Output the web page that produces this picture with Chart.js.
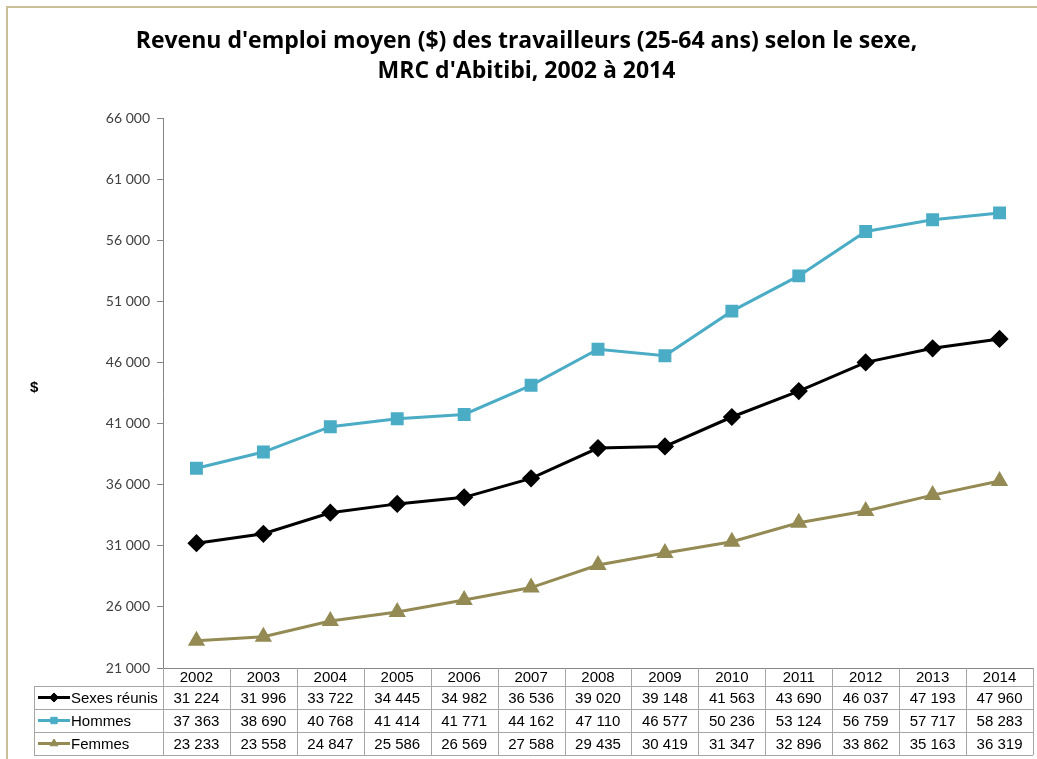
<!DOCTYPE html>
<html>
<head>
<meta charset="utf-8">
<script src="https://cdn.jsdelivr.net/npm/chart.js@4/dist/chart.umd.min.js"></script>
<style>
  html, body { margin: 0; padding: 0; background: #fff; overflow: hidden; }
  #wrap { width: 1037px; height: 759px; }
  canvas { display: block; }
</style>
</head>
<body>
<div id="wrap"><canvas id="chart" width="1037" height="759"></canvas></div>
<script>
const years = ["2002", "2003", "2004", "2005", "2006", "2007", "2008", "2009", "2010", "2011", "2012", "2013", "2014"];
const sexesReunis = [31224, 31996, 33722, 34445, 34982, 36536, 39020, 39148, 41563, 43690, 46037, 47193, 47960];
const hommes = [37363, 38690, 40768, 41414, 41771, 44162, 47110, 46577, 50236, 53124, 56759, 57717, 58283];
const femmes = [23233, 23558, 24847, 25586, 26569, 27588, 29435, 30419, 31347, 32896, 33862, 35163, 36319];
const yMin = 21000, yMax = 66000, yStep = 5000;

// "31 224" style, space as thousands separator
function fmt(v) {
  return String(Math.round(v)).replace(/\B(?=(\d{3})+(?!\d))/g, " ");
}

const frameColor = "#c9c09a";
const gridColor = "#a6a6a6";
const axisColor = "#868686";

// white background + tan frame, "$" label
const framePlugin = {
  id: "frame",
  beforeDraw(chart) {
    const ctx = chart.ctx;
    ctx.save();
    ctx.fillStyle = "#fff";
    ctx.fillRect(0, 0, chart.width, chart.height);
    ctx.strokeStyle = frameColor;
    ctx.lineWidth = 2;
    ctx.beginPath();
    ctx.moveTo(7, chart.height);
    ctx.lineTo(7, 7);
    ctx.lineTo(chart.width, 7);
    ctx.stroke();
    ctx.restore();
  },
  afterDraw(chart) {
    const ctx = chart.ctx;
    const ca = chart.chartArea;
    ctx.save();
    ctx.fillStyle = "#000";
    ctx.font = "bold 15px 'Liberation Sans', Arial, sans-serif";
    ctx.textAlign = "left";
    ctx.textBaseline = "middle";
    ctx.fillText("$", 30, (ca.top + ca.bottom) / 2 - 6);
    ctx.restore();
  }
};

// data table under the plot, columns follow the x scale
const tablePlugin = {
  id: "dataTable",
  afterDraw(chart) {
    const ctx = chart.ctx;
    const ca = chart.chartArea;
    const xs = chart.scales.x;
    const n = years.length;
    const colW = (ca.right - ca.left) / n;
    const tableLeft = 34;
    const headH = 18, rowH = 23;
    const top = ca.bottom;
    const rowsTop = top + headH;
    const bottom = rowsTop + rowH * chart.data.datasets.length;
    const px = v => Math.round(v) + 0.5;

    ctx.save();
    // x axis line
    ctx.strokeStyle = axisColor;
    ctx.lineWidth = 1;
    ctx.beginPath();
    ctx.moveTo(ca.left, px(top));
    ctx.lineTo(ca.right, px(top));
    ctx.stroke();

    ctx.strokeStyle = gridColor;
    ctx.beginPath();
    // vertical column lines
    for (let i = 0; i <= n; i++) {
      const x = px(ca.left + i * colW);
      ctx.moveTo(x, top);
      ctx.lineTo(x, bottom);
    }
    ctx.moveTo(px(tableLeft), rowsTop);
    ctx.lineTo(px(tableLeft), bottom);
    // horizontal row lines
    for (let r = 0; r <= chart.data.datasets.length; r++) {
      const y = px(rowsTop + r * rowH);
      ctx.moveTo(tableLeft, y);
      ctx.lineTo(ca.right, y);
    }
    ctx.stroke();

    ctx.fillStyle = "#000";
    ctx.font = "15px 'Liberation Sans', Arial, sans-serif";
    ctx.textBaseline = "middle";
    ctx.textAlign = "center";
    years.forEach((y, i) => {
      ctx.fillText(y, xs.getPixelForValue(i), top + headH / 2 + 1);
    });

    chart.data.datasets.forEach((ds, r) => {
      const cy = rowsTop + r * rowH + rowH / 2 + 1;
      ctx.fillStyle = "#000";
      ctx.textAlign = "center";
      ds.data.forEach((v, i) => {
        ctx.fillText(fmt(v), xs.getPixelForValue(i), cy);
      });
      // legend key: line + marker
      ctx.strokeStyle = ds.borderColor;
      ctx.fillStyle = ds.borderColor;
      ctx.lineWidth = 3;
      ctx.beginPath();
      ctx.moveTo(38, cy - 1);
      ctx.lineTo(70, cy - 1);
      ctx.stroke();
      ctx.lineWidth = 1;
      Chart.helpers.drawPoint(ctx, {
        pointStyle: ds.pointStyle,
        radius: ds.pointRadius * 0.65,
        rotation: 0,
        borderWidth: 1
      }, 54, cy - 1);
      ctx.fillStyle = "#000";
      ctx.textAlign = "left";
      ctx.fillText(ds.label, 71, cy);
    });
    ctx.restore();
  }
};

function series(label, data, color, style, radius, width) {
  return {
    label: label,
    data: data,
    borderColor: color,
    backgroundColor: color,
    pointBackgroundColor: color,
    pointBorderColor: color,
    borderWidth: width,
    pointStyle: style,
    pointRadius: radius,
    pointHoverRadius: radius,
    tension: 0
  };
}

new Chart(document.getElementById("chart"), {
  type: "line",
  data: {
    labels: years,
    datasets: [
      series("Sexes réunis", sexesReunis, "#000000", "rectRot", 7, 3),
      series("Hommes", hommes, "#4bacc6", "rect", 7, 3),
      series("Femmes", femmes, "#948a54", "triangle", 7, 3)
    ]
  },
  options: {
    responsive: false,
    animation: false,
    layout: { autoPadding: false, padding: { left: 20, right: 4, top: 0, bottom: 91 } },
    plugins: {
      legend: { display: false },
      tooltip: { enabled: false },
      title: {
        display: true,
        text: ["Revenu d'emploi moyen ($) des travailleurs (25-64 ans) selon le sexe,", "MRC d'Abitibi, 2002 à 2014"],
        color: "#000",
        font: { family: "'Open Sans', Lato, sans-serif", size: 23, weight: "bold", lineHeight: 1.32 },
        padding: { top: 26, bottom: 32 }
      }
    },
    scales: {
      x: {
        type: "category",
        offset: true,
        display: false
      },
      y: {
        min: yMin,
        max: yMax,
        afterFit(scale) { scale.width = 143; },
        afterBuildTicks(scale) {
          const t = [];
          for (let v = yMin; v <= yMax; v += yStep) t.push({ value: v });
          scale.ticks = t;
        },
        grid: { drawOnChartArea: false, tickLength: 6, color: axisColor },
        border: { color: axisColor },
        ticks: {
          padding: 7,
          color: "#404040",
          font: { family: "Lato, sans-serif", size: 14 },
          callback: v => fmt(v)
        }
      }
    }
  },
  plugins: [framePlugin, tablePlugin]
});
</script>
</body>
</html>
